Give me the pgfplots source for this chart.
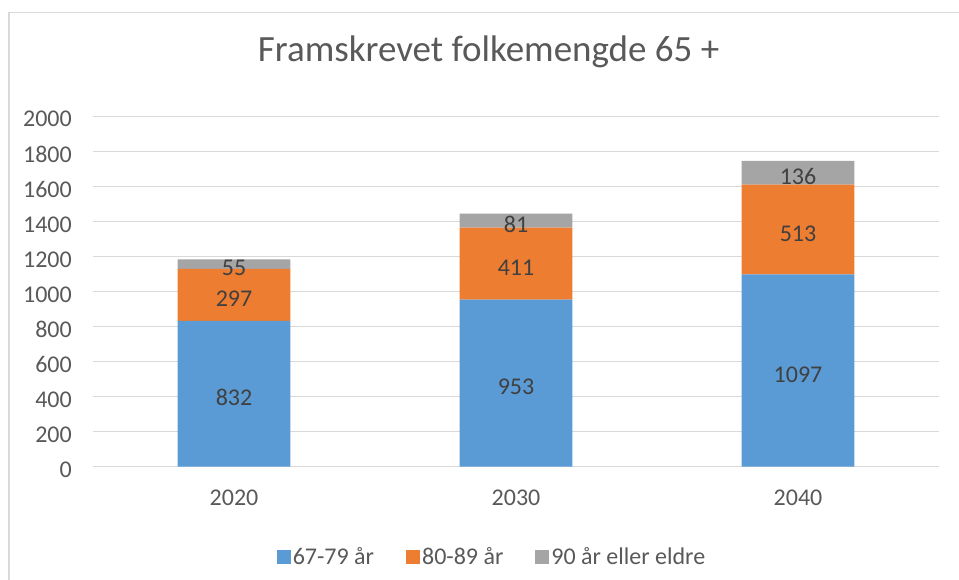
\documentclass[border=0pt]{standalone}
\usepackage{fontspec}
\setmainfont{Carlito}
\usepackage{pgfplots}
\usepackage{pgfplotstable}
\pgfplotsset{compat=1.18}
\definecolor{cblue}{HTML}{5B9BD5}
\definecolor{corange}{HTML}{ED7D31}
\definecolor{cgray}{HTML}{A5A5A5}
\definecolor{gridc}{HTML}{D9D9D9}
\definecolor{txt}{HTML}{595959}
\definecolor{lbl}{HTML}{404040}
\pgfplotstableread{
x a b c
0 832 297 55
1 953 411 81
2 1097 513 136
}\data
\begin{document}
\begin{tikzpicture}[x=1pt,y=1pt]
\useasboundingbox (0,0) rectangle (959,580);
\fill[white] (0,0) rectangle (959,580);
\draw[gridc, line width=1.5pt] (9,-10) -- (9,567.5) -- (975,567.5);
\begin{axis}[
  at={(93pt,113.3pt)}, anchor=south west,
  scale only axis, width=846pt, height=350.4pt,
  ybar stacked, bar width=112.8pt,
  xmin=-0.5, xmax=2.5, ymin=0, ymax=2000,
  xtick={0,1,2}, xticklabels={2020,2030,2040},
  ytick={0,200,...,2000},
  ymajorgrids, grid style={gridc, line width=1.3pt},
  axis line style={draw=none},
  major tick length=0pt,
  /pgf/number format/assume math mode=true,
  /pgf/number format/1000 sep={},
  ticklabel style={font=\fontsize{24}{28}\selectfont, text=txt, inner sep=0pt},
  yticklabel style={xshift=-21pt, yshift=-3pt},
  xticklabel style={yshift=-23pt},
  title={Framskrevet folkemengde 65 +},
  title style={at={(axis description cs:0.4675,1.138)}, anchor=base, inner sep=0pt,
    font=\fontsize{37}{44}\selectfont, text=txt},
  point meta=explicit,
  nodes near coords,
  every node near coord/.append style={anchor=center, font=\fontsize{24}{28}\selectfont,
    text=lbl, yshift=-4pt},
  legend columns=-1,
  legend style={draw=none, fill=none, at={(axis description cs:0.4716,-0.258)}, anchor=center,
    font=\fontsize{24}{28}\selectfont, text=txt,
    nodes={inner sep=2pt},
    /tikz/every even column/.append style={column sep=30pt}},
  sqleg/.style={legend image code/.code={\fill[##1] (0pt,-7pt) rectangle (14pt,7pt);}},
]
\addplot[fill=cblue, draw=none, sqleg] table[x=x, y=a, meta=a]{\data};
\addplot[fill=corange, draw=none, sqleg] table[x=x, y=b, meta=b]{\data};
\addplot[fill=cgray, draw=none, sqleg] table[x=x, y=c, meta=c]{\data};
\legend{67-79 år, 80-89 år, 90 år eller eldre}
\end{axis}
\end{tikzpicture}
\end{document}
